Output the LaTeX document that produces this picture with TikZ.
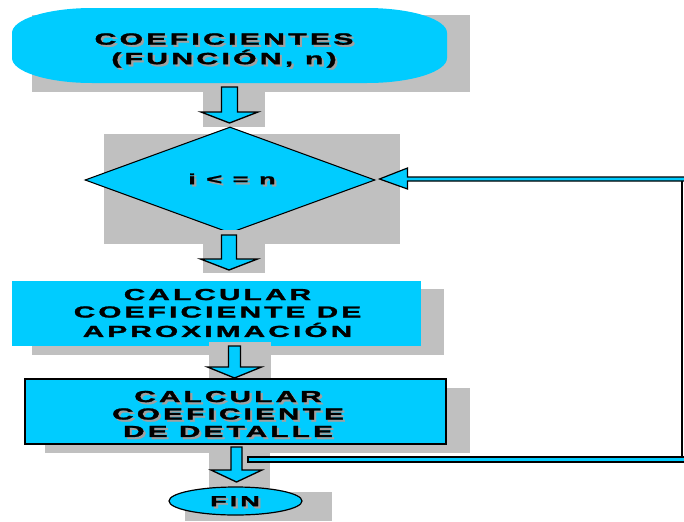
\documentclass[tikz,border=0pt]{standalone}
\usepackage{fontspec}
\usepackage{graphicx}
\usetikzlibrary{shapes.geometric,calc}
\newfontfamily\famA{Liberation Sans}[LetterSpace=11,FakeBold=1.5]
\definecolor{fc}{HTML}{00CCFF}
\definecolor{shg}{HTML}{C0C0C0}
\definecolor{txg}{HTML}{A0A0A0}
\newcommand\stx[1]{\scalebox{1.85}[1]{\begin{tabular}{@{}c@{}}#1\end{tabular}}}
\tikzset{
  shadowbox/.style={fill=shg, draw=none},
  shapefill/.style={fill=fc, draw=black, line width=0.9pt},
  barrowstyle/.style={fill=fc, draw=black, line width=1pt, line join=miter},
  ttop/.style={font={\famA\bfseries\fontsize{12.2}{12.75}\selectfont}, inner sep=0pt},
  tbox/.style={font={\famA\bfseries\fontsize{12}{13.1}\selectfont}, inner sep=0pt},
  tdia/.style={font={\famA\bfseries\fontsize{11}{12}\selectfont}, inner sep=0pt},
  tfin/.style={font={\famA\bfseries\fontsize{11}{12}\selectfont}, inner sep=0pt},
  tshadow/.style={text=txg, xshift=1.6pt, yshift=-1.6pt}
}
% block arrow: centre x, top, shaft half width, head half width, head base y, tip y
\newcommand\blockarrow[6]{%
  \draw[barrowstyle] (#1-#3,#2) -- (#1+#3,#2) -- (#1+#3,#5) -- (#1+#4,#5) -- (#1,#6)
    -- (#1-#4,#5) -- (#1-#3,#5) -- cycle;}
\begin{document}
\begin{tikzpicture}[x=0.75pt,y=-0.75pt]
\useasboundingbox (0,0) rectangle (684,521);

% ---- start terminator
\fill[shadowbox] (32,15) rectangle (470,92);
\fill[fc] (92,8) -- (367,8) arc[start angle=90,end angle=0,x radius=60pt,y radius=18.75pt]
  -- (447,58) arc[start angle=0,end angle=-90,x radius=60pt,y radius=18.75pt]
  -- (92,83) arc[start angle=270,end angle=180,x radius=60pt,y radius=18.75pt]
  -- (12,33) arc[start angle=180,end angle=90,x radius=60pt,y radius=18.75pt] -- cycle;
\node[inner sep=0pt, minimum width=326.25pt, minimum height=56.25pt] (start) at (229.5,45.5) {};
\node[ttop, tshadow] (startts) at (224,51) {\stx{COEFICIENTES\\(FUNCIÓN, n)}};
\node[ttop] (startt) at (224,51) {\stx{COEFICIENTES\\(FUNCIÓN, n)}};

% ---- arrow 1
\fill[shadowbox] (203,88) rectangle (265,127);
\blockarrow{229.5}{87}{8}{28.5}{112}{123}

% ---- decision
\fill[shadowbox] (104,134) rectangle (400,244);
\node[diamond, shapefill, line width=0.8pt, inner sep=0pt, minimum width=217.5pt, minimum height=79.5pt] (dec) at (230,180) {};
\node[tdia, tshadow] (dects) at (232,181) {\stx{i < = n}};
\node[tdia] (dect) at (232,181) {\stx{i < = n}};

% ---- arrow 2
\fill[shadowbox] (203,230) rectangle (265,273);
\blockarrow{229}{235}{7.5}{28.5}{259}{270}

% ---- box 1
\fill[shadowbox] (32,289) rectangle (444,355);
\node[fill=fc, draw=none, inner sep=0pt, minimum width=306.75pt, minimum height=48.75pt] (calc1) at (216.5,313.5) {};
\node[tbox] (calc1t) at (217.5,315) {\stx{CALCULAR\\COEFICIENTE DE\\APROXIMACIÓN}};

% ---- arrow 3
\fill[shadowbox] (209,342) rectangle (271,381);
\blockarrow{234.5}{346}{6}{27}{367}{378}

% ---- box 2
\fill[shadowbox] (45,388) rectangle (470,453);
\node[shapefill, line width=1.1pt, inner sep=0pt, minimum width=315.75pt, minimum height=48.75pt] (calc2) at (235.5,411.5) {};
\node[tbox, tshadow] (calc2ts) at (228,416) {\stx{CALCULAR\\COEFICIENTE\\DE DETALLE}};
\node[tbox] (calc2t) at (228,416) {\stx{CALCULAR\\COEFICIENTE\\DE DETALLE}};

% ---- arrow 4
\fill[shadowbox] (209,447) rectangle (270,488);
\blockarrow{236.5}{447}{5.5}{25.5}{470}{482}

% ---- end
\fill[shadowbox] (185,492) rectangle (332,521);
\node[ellipse, shapefill, line width=0.9pt, inner sep=0pt, minimum width=99.75pt, minimum height=21pt] (fin) at (235.5,501) {};
\node[tfin, tshadow] (fints) at (235,503) {\stx{FIN}};
\node[tfin] (fint) at (235,503) {\stx{FIN}};

% ---- loop back connector
\coordinate (lbtip) at ($(dec.east)+(4,-1)$);
\coordinate (lb0) at (248,459.5);
\coordinate (lb1) at (682,459.5);
\coordinate (lb2) at (682,179);
\draw[line width=1.6pt] (lb1) -- (lb2);
\draw[barrowstyle, line width=0.9pt] ($(lb0)+(0,-2.5)$) -- (686,457) -- (686,462) -- ($(lb0)+(0,2.5)$) -- cycle;
\draw[barrowstyle, line width=0.9pt] (lbtip) -- ($(lbtip)+(28,-11)$) -- ($(lbtip)+(28,-2)$) -- (686,177) -- (686,181)
  -- ($(lbtip)+(28,2)$) -- ($(lbtip)+(28,10)$) -- cycle;
\end{tikzpicture}
\end{document}
